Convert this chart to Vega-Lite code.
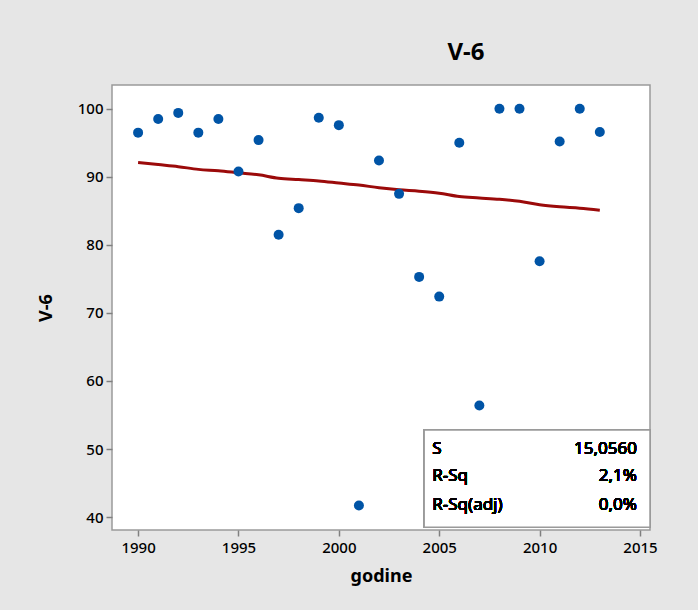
{
  "$schema": "https://vega.github.io/schema/vega-lite/v6.json",
  "autosize": {"type": "none"},
  "width": 538,
  "height": 445,
  "padding": {"left": 112, "top": 85, "right": 48, "bottom": 80},
  "background": "#e6e6e6",
  "title": {"text": "V-6", "font": "Noto Sans", "fontSize": 24, "fontWeight": "bold", "color": "#000000", "offset": 20, "anchor": "middle", "dx": 85},
  "config": {
    "view": {"fill": "white", "stroke": "#9a9a9a", "strokeWidth": 1.5},
    "axis": {"grid": false, "domain": false, "tickColor": "#808080", "tickSize": 6, "tickWidth": 1.5, "labelFont": "Noto Sans", "labelFontSize": 15, "labelFontWeight": 500, "labelColor": "#000000", "titleFont": "Noto Sans", "titleFontSize": 18, "titleFontWeight": "bold", "titleColor": "#000000"},
    "text": {"font": "Noto Sans", "fontSize": 17, "fill": "#000000", "fontWeight": "normal"}
  },
  "data": {"values": [
    {"year": 1990, "v6": 96.5, "fit": 92.1},
    {"year": 1991, "v6": 98.5, "fit": 91.8},
    {"year": 1992, "v6": 99.4, "fit": 91.5},
    {"year": 1993, "v6": 96.5, "fit": 91.1},
    {"year": 1994, "v6": 98.5, "fit": 90.9},
    {"year": 1995, "v6": 90.8, "fit": 90.6},
    {"year": 1996, "v6": 95.4, "fit": 90.3},
    {"year": 1997, "v6": 81.5, "fit": 89.8},
    {"year": 1998, "v6": 85.4, "fit": 89.6},
    {"year": 1999, "v6": 98.7, "fit": 89.4},
    {"year": 2000, "v6": 97.6, "fit": 89.1},
    {"year": 2001, "v6": 41.7, "fit": 88.8},
    {"year": 2002, "v6": 92.4, "fit": 88.4},
    {"year": 2003, "v6": 87.5, "fit": 88.1},
    {"year": 2004, "v6": 75.3, "fit": 87.9},
    {"year": 2005, "v6": 72.4, "fit": 87.6},
    {"year": 2006, "v6": 95.0, "fit": 87.1},
    {"year": 2007, "v6": 56.4, "fit": 86.9},
    {"year": 2008, "v6": 100.0, "fit": 86.7},
    {"year": 2009, "v6": 100.0, "fit": 86.4},
    {"year": 2010, "v6": 77.6, "fit": 85.9},
    {"year": 2011, "v6": 95.2, "fit": 85.6},
    {"year": 2012, "v6": 100.0, "fit": 85.4},
    {"year": 2013, "v6": 96.6, "fit": 85.1}
  ]},
  "encoding": {
    "x": {"field": "year", "type": "quantitative", "scale": {"domain": [1988.7, 2015.5], "nice": false, "zero": false}, "axis": {"values": [1990, 1995, 2000, 2005, 2010, 2015], "format": "d", "title": "godine", "titlePadding": 12, "labelPadding": 4}},
    "y": {"type": "quantitative", "scale": {"domain": [38.1, 103.5], "nice": false, "zero": false}, "axis": {"values": [40, 50, 60, 70, 80, 90, 100], "title": "V-6", "titlePadding": 22, "labelPadding": 3}}
  },
  "layer": [
    {"mark": {"type": "line", "color": "#9b0a0a", "strokeWidth": 3, "interpolate": "monotone"}, "encoding": {"y": {"field": "fit", "type": "quantitative"}}},
    {"mark": {"type": "circle", "color": "#0054a6", "opacity": 1, "size": 100}, "encoding": {"y": {"field": "v6", "type": "quantitative"}}},
    {"mark": {"type": "rect", "fill": "white", "stroke": "#9a9a9a", "strokeWidth": 1.5}, "encoding": {"x": {"datum": 2004.25}, "x2": {"datum": 2015.5}, "y": {"datum": 52.8}, "y2": {"datum": 38.5}}},
    {"mark": {"type": "text", "align": "left", "baseline": "middle"}, "encoding": {"x": {"datum": 2004.65}, "y": {"datum": 50.0}, "text": {"datum": "S"}}},
    {"mark": {"type": "text", "align": "left", "baseline": "middle"}, "encoding": {"x": {"datum": 2004.65}, "y": {"datum": 46.0}, "text": {"datum": "R-Sq"}}},
    {"mark": {"type": "text", "align": "left", "baseline": "middle"}, "encoding": {"x": {"datum": 2004.65}, "y": {"datum": 41.8}, "text": {"datum": "R-Sq(adj)"}}},
    {"mark": {"type": "text", "align": "right", "baseline": "middle"}, "encoding": {"x": {"datum": 2014.85}, "y": {"datum": 50.0}, "text": {"datum": "15,0560"}}},
    {"mark": {"type": "text", "align": "right", "baseline": "middle"}, "encoding": {"x": {"datum": 2014.85}, "y": {"datum": 46.0}, "text": {"datum": "2,1%"}}},
    {"mark": {"type": "text", "align": "right", "baseline": "middle"}, "encoding": {"x": {"datum": 2014.85}, "y": {"datum": 41.8}, "text": {"datum": "0,0%"}}}
  ]
}
